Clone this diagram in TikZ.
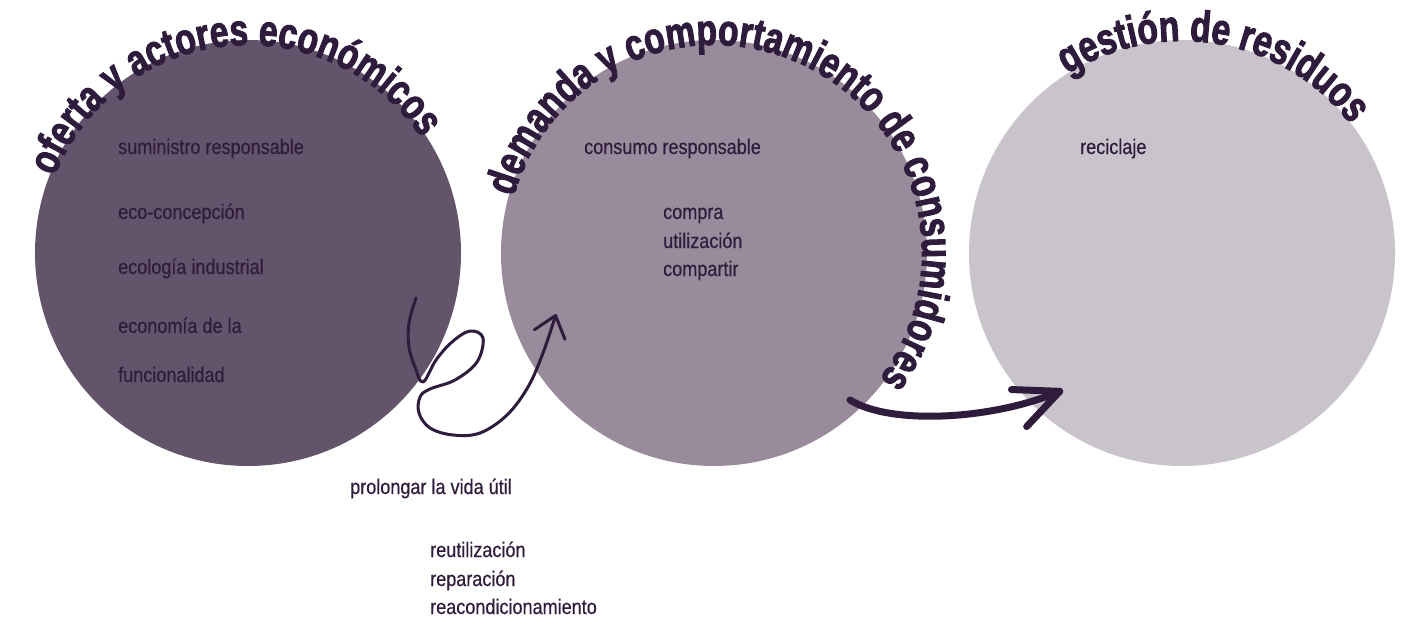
\documentclass[tikz,border=0pt]{standalone}
\usepackage{fontspec}
\setmainfont{Liberation Sans}
\newfontfamily\hdrfont[FakeStretch=0.76,FakeBold=2.2]{Liberation Sans Bold}
\newfontfamily\itemfont[FakeStretch=0.86,FakeBold=0.4]{Liberation Sans}
\usepackage{tikz}
\usetikzlibrary{arrows.meta,decorations.text}
\definecolor{cOfer} {HTML}{64546B}
\definecolor{cDem}  {HTML}{998B9B}
\definecolor{cRes}  {HTML}{C9C4CB}
\definecolor{cInk}  {HTML}{2F1C3C}
\tikzset{
  circ/.style  ={circle,draw=none,inner sep=0pt,minimum size=426pt},
  item/.style  ={anchor=base west,inner sep=0pt,text=cInk,
                 font=\itemfont\fontsize{21}{29}\selectfont},
  hdr/.style   ={decorate,decoration={text along path,text align=center,
                 text color=cInk,text={|\hdrfont\fontsize{44}{44}\selectfont|#1}}},
  swirl/.style ={draw=cInk,line width=3pt,line cap=round,line join=round,
                 -{Straight Barb[length=20pt,width=32pt,round]}},
  sweep/.style ={draw=cInk,line width=7pt,line cap=round,
                 -{Straight Barb[length=44pt,width=40pt,round]}},
}

\begin{document}
\begin{tikzpicture}[x=1pt,y=1pt]
\useasboundingbox (0,0) rectangle (1413,-624);

% ---- circles -------------------------------------------------------------
\node[circ,fill=cOfer] (c1) at (248,-253)  {};
\node[circ,fill=cDem]  (c2) at (714,-253)  {};
\node[circ,fill=cRes]  (c3) at (1182,-253) {};

% ---- headings along the rims ---------------------------------------------
\path[hdr={oferta y actores económicos}]
  (c1.center) ++(162:208) arc[start angle=162,end angle=30,radius=208];
\path[hdr={demanda y comportamiento de consumidores}]
  (c2.center) ++(164:208) arc[start angle=164,end angle=-37,radius=208];
\path[hdr={gestión de residuos}]
  (c3.center) ++(124:212) arc[start angle=124,end angle=36,radius=212];

% ---- oferta --------------------------------------------------------------
\node[item] (o1) at (118,-154) {suministro responsable};
\node[item] (o2) at (118,-219) {eco-concepción};
\node[item] (o3) at (118,-274) {ecología industrial};
\node[item] (o4) at (118,-333) {economía de la};
\node[item] (o5) at (118,-382) {funcionalidad};

% ---- demanda -------------------------------------------------------------
\node[item] (d1) at (584,-154) {consumo responsable};
\node[item] (d2) at (663,-219) {compra};
\node[item] (d3) at (663,-248) {utilización};
\node[item] (d4) at (663,-276) {compartir};

% ---- residuos ------------------------------------------------------------
\node[item] (r1) at (1080,-154) {reciclaje};

% ---- vida util -----------------------------------------------------------
\node[item] (v0) at (350,-494) {prolongar la vida útil};
\node[item] (v1) at (430,-557) {reutilización};
\node[item] (v2) at (430,-586) {reparación};
\node[item] (v3) at (430,-614) {reacondicionamiento};

% ---- arrows --------------------------------------------------------------
\coordinate (swirlS) at (416,-298);
\coordinate (swirlE) at (556,-314);
\draw[swirl] plot[smooth,tension=0.6] coordinates {(swirlS) (409,-323)
  (409,-347) (415,-367) (423,-382) (436,-360) (452,-342) (470,-331)
  (483,-338) (477,-362) (455,-380) (430,-389) (420,-397) (419,-413)
  (430,-428) (453,-435) (480,-433) (507,-415) (528,-387) (543,-353) (swirlE)};

\coordinate (sweepS) at (850,-400);
\coordinate (sweepE) at (1063,-390);
\draw[sweep] (sweepS) .. controls (890,-425) and (990,-420) .. (sweepE);
\end{tikzpicture}
\end{document}
